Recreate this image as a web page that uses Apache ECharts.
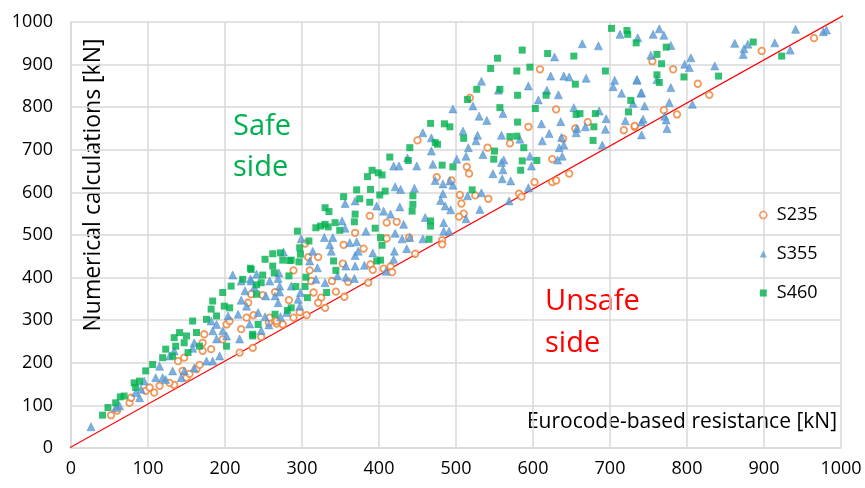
<!DOCTYPE html>
<html><head><meta charset="utf-8">
<script src="https://cdn.jsdelivr.net/npm/echarts@6/dist/echarts.min.js"></script>
<style>html,body{margin:0;padding:0;background:#fff}#c{width:865px;height:488px}</style>
</head><body><div id="c"></div>
<script>
const seriesNames = ['S235', 'S355', 'S460'];
const axisTicks = [0,100,200,300,400,500,600,700,800,900,1000];
const s235 = [
[52,77],[60,88],[76,106],[78,118],[97,134],[108,130],[102,142],[115,146],[134,148],[128,153],[150,165],[154,174],[163,185],[139,204],[145,181],[167,195],[171,228],[171,247],[173,267],[182,232],[197,255],[202,290],[206,298],[219,224],[221,279],[236,235],[228,306],[230,341],[234,361],[147,212],
[475,636],[388,545],[410,529],[423,531],[369,505],[410,492],[439,494],[354,477],[380,468],[304,480],[308,448],[321,448],[289,417],[310,417],[353,433],[389,431],[392,418],[415,426],[417,413],[406,421],[447,456],[312,392],[339,392],[360,390],[386,388],[315,365],[344,367],[355,355],[325,353],[321,341],[330,329],[297,319],[306,312],[289,306],[283,347],[275,290],[249,359],[237,312],[257,294],[247,261],[258,306],[267,292],
[609,889],[518,822],[630,795],[671,765],[594,754],[655,750],[718,746],[732,754],[639,726],[570,715],[541,705],[625,678],[514,660],[517,644],[494,628],[602,624],[625,624],[630,628],[647,644],[505,594],[525,593],[542,585],[507,574],[582,597],[585,590],[510,550],[504,543],[482,488],[482,478],
[755,908],[782,889],[814,855],[829,829],[770,793],[787,783],[732,756],[897,932],[965,962],
[265,366],[267,298],[450,722]
];
const s355 = [
[26,50],[210,406],[233,397],[221,392],[226,369],[238,378],[221,347],[228,333],[217,314],[204,310],[182,298],[189,290],[184,275],[197,275],[232,291],[219,256],[202,263],[160,247],[158,234],[189,256],[193,216],[176,204],[184,204],[134,228],[128,216],[115,192],[119,165],[123,161],[132,181],[147,181],[143,165],[160,188],[110,165],[91,138],[84,130],[63,99],[58,95],[89,118],[95,157],
[421,613],[428,607],[446,610],[473,628],[483,620],[492,627],[483,597],[480,581],[486,568],[356,574],[369,580],[397,568],[427,566],[406,556],[415,549],[460,541],[432,525],[484,529],[484,509],[352,533],[356,516],[383,509],[421,504],[430,491],[440,494],[457,491],[329,494],[340,494],[299,491],[362,482],[371,484],[436,468],[420,462],[336,477],[338,462],[310,439],[276,460],[392,458],[369,452],[373,462],[419,443],[357,427],[369,427],[381,429],[320,423],[318,396],[330,388],[346,404],[357,401],[368,398],[409,415],[270,411],[258,392],[269,398],[271,380],[241,408],[234,392],[253,357],[265,357],[269,341],[295,349],[297,333],[298,365],[243,318],[252,308],[272,308],[280,318],[257,289],[247,276],[286,380],
[664,949],[685,944],[628,918],[623,873],[640,873],[647,871],[669,868],[533,861],[594,850],[555,840],[618,840],[633,829],[706,863],[735,863],[704,848],[715,833],[740,833],[607,817],[522,803],[496,796],[530,779],[540,769],[561,785],[653,799],[686,791],[695,773],[720,768],[741,765],[636,766],[611,761],[657,750],[668,754],[694,748],[656,740],[509,744],[528,734],[526,721],[559,734],[583,725],[621,738],[637,729],[612,721],[640,711],[634,705],[690,711],[516,705],[513,685],[535,689],[501,678],[562,676],[559,670],[596,685],[598,662],[638,685],[632,676],[561,653],[548,644],[560,632],[571,627],[496,617],[515,592],[533,599],[594,611],[569,580],[493,559],[531,560],[513,538],[491,509],
[764,984],[756,971],[770,969],[736,963],[779,945],[805,916],[753,922],[797,901],[803,893],[836,897],[735,865],[761,865],[779,846],[741,834],[730,809],[745,803],[777,811],[807,807],[743,772],[771,779],[773,770],[774,750],[741,735],[862,950],[873,924],[879,948],[874,937],[914,951],[941,983],[934,934],[977,977],[981,981],
[457,740],[468,728],[468,697],[437,681],[419,662],[426,662],[449,662],[470,666],[713,971],[271,366],[314,462]
];
const s460 = [
[41,77],[48,95],[58,106],[64,120],[69,122],[84,142],[82,153],[89,157],[97,181],[106,196],[119,212],[123,232],[132,216],[136,239],[134,259],[147,247],[150,263],[141,271],[158,298],[163,271],[152,224],[176,302],[182,326],[184,345],[189,310],[199,333],[197,365],[206,329],[208,380],[223,396],[233,422],[241,361],[236,267],[202,239],[167,239],
[371,606],[389,607],[408,603],[401,594],[375,585],[388,577],[354,590],[444,592],[444,572],[443,556],[330,564],[335,555],[369,549],[368,531],[343,529],[330,525],[324,521],[334,519],[318,517],[349,511],[294,509],[395,516],[467,533],[467,521],[465,490],[402,494],[404,476],[309,486],[297,470],[298,455],[296,437],[286,441],[275,441],[272,458],[262,456],[252,443],[262,427],[264,411],[234,419],[249,406],[283,404],[305,401],[341,439],[344,417],[402,441],[397,439],[292,379],[304,379],[332,365],[307,353],[286,329],[281,323],[265,314],[243,290],[236,263],[241,383],[247,388],
[586,934],[554,915],[619,926],[653,920],[734,951],[545,891],[579,885],[596,894],[694,885],[527,842],[557,842],[515,818],[580,828],[617,828],[655,854],[557,799],[603,797],[656,783],[661,785],[681,785],[580,765],[679,754],[727,816],[724,789],[485,761],[492,754],[510,727],[570,731],[579,732],[588,705],[550,697],[549,678],[586,674],[605,675],[584,652],[678,722],[482,664],[496,660],[521,606],
[773,941],[761,924],[767,902],[761,876],[764,858],[796,871],[841,873],[886,953],[923,920],
[467,762],[440,705],[473,717],[476,713],[414,683],[438,675],[391,652],[399,646],[404,641],[385,637],
[702,985],[722,980],[723,971],[284,440]
];
const refLine = [[-10,-8],[1004,1016]];

const FONT = 'Open Sans';
const chart = echarts.init(document.getElementById('c'), null, {renderer:'canvas'});
const gridCol = '#d9d9d9';
const fmt = v => String(v);
const axisCommon = {
  type:'value', min:axisTicks[0], max:axisTicks[axisTicks.length-1], interval:100,
  axisLine:{show:true, lineStyle:{color:gridCol, width:1.5}},
  axisTick:{show:false},
  splitLine:{show:true, lineStyle:{color:gridCol, width:1.5}},
};
chart.setOption({
  animation:false,
  backgroundColor:'#fff',
  grid:{left:71, right:24, top:22, bottom:40},
  xAxis:Object.assign({}, axisCommon, {axisLabel:{color:'#000', fontFamily:FONT, fontSize:18, margin:12, formatter:fmt}}),
  yAxis:Object.assign({}, axisCommon, {axisLabel:{color:'#000', fontFamily:FONT, fontSize:18, margin:18, formatter:fmt}}),
  legend:{
    orient:'vertical', left:754, top:200, itemWidth:7, itemHeight:7, itemGap:19,
    data:[
      {name:seriesNames[0], icon:'circle', itemStyle:{color:'#fff', borderColor:'#ed7d31', borderWidth:1.6}},
      {name:seriesNames[1], icon:'triangle', itemStyle:{color:'#5b9bd5', borderWidth:0}},
      {name:seriesNames[2], icon:'rect', itemStyle:{color:'#00b050', borderWidth:0}}
    ],
    textStyle:{color:'#000', fontFamily:FONT, fontSize:18, lineHeight:20, padding:[0,0,0,5]}
  },
  graphic:[
    {type:'text', x:93, y:185, rotation:Math.PI/2, style:{text:'Numerical calculations [kN]', font:'23px "Open Sans"', fill:'#000', textAlign:'center', textVerticalAlign:'middle'}},
    {type:'text', x:837, y:422, style:{text:'Eurocode-based resistance [kN]', font:'21px "Open Sans"', fill:'#000', textAlign:'right', textVerticalAlign:'middle'}},
    {type:'text', x:233, y:127, style:{text:'Safe', font:'29px "Open Sans"', fill:'#00b050', textAlign:'left', textVerticalAlign:'middle'}},
    {type:'text', x:233, y:168, style:{text:'side', font:'29px "Open Sans"', fill:'#00b050', textAlign:'left', textVerticalAlign:'middle'}},
    {type:'text', x:545, y:302, style:{text:'Unsafe', font:'29px "Open Sans"', fill:'#ff0000', textAlign:'left', textVerticalAlign:'middle'}},
    {type:'text', x:545, y:344, style:{text:'side', font:'29px "Open Sans"', fill:'#ff0000', textAlign:'left', textVerticalAlign:'middle'}}
  ],
  series:[
    {name:'ref', type:'line', data:refLine, clip:false, symbol:'none', silent:true,
     lineStyle:{color:'#ff0000', width:1.2}, z:1},
    {name:seriesNames[0], type:'scatter', data:s235, symbol:'circle', symbolSize:6.5,
     itemStyle:{color:'#ffffff', borderColor:'#ed7d31', borderWidth:1.8}, z:2},
    {name:seriesNames[1], type:'scatter', data:s355, symbol:'triangle', symbolSize:8,
     itemStyle:{color:'#5b9bd5', borderColor:'#4a8bcb', borderWidth:0.6}, z:3},
    {name:seriesNames[2], type:'scatter', data:s460, symbol:'rect', symbolSize:7,
     itemStyle:{color:'#00b050'}, z:4}
  ]
});
</script></body></html>
